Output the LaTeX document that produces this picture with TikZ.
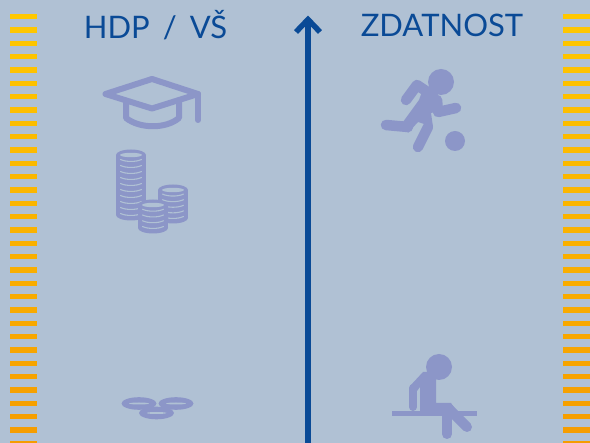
\documentclass[tikz,border=0pt]{standalone}
\usepackage{fontspec}
\setmainfont{Lato}
\definecolor{bgc}{HTML}{B0C1D4}
\definecolor{iconc}{HTML}{8C96C8}
\definecolor{bluec}{HTML}{0A4A96}
\definecolor{stopa}{HTML}{FFC800}
\definecolor{stopb}{HTML}{F59C00}
\tikzset{
  limb/.style={draw=iconc,line cap=round,line join=round},
  title/.style={text=bluec,inner sep=0pt,anchor=base},
}
\newcommand{\coinstack}[4]{% cx, top y, bottom y, count
  \pgfmathsetmacro{\stp}{(#3-#2)/#4}
  \fill[iconc] (#1,#2) ellipse[x radius=15,y radius=5.5];
  \fill[iconc] (#1,#3) ellipse[x radius=15,y radius=5.5];
  \fill[iconc] (#1-15,#2) rectangle (#1+15,#3);
  \fill[bgc] (#1,#2) ellipse[x radius=11,y radius=2.2];
  \foreach \k in {1,...,#4}{
    \pgfmathsetmacro{\yk}{#2+\k*\stp-1.5}
    \draw[bgc,line width=1.1pt,line cap=round] (#1-10.5,\yk) .. controls (#1-5,\yk+2.6) and (#1+5,\yk+2.6) .. (#1+10.5,\yk);
  }
}
\begin{document}
\begin{tikzpicture}[x=1pt,y=-1pt]
\fill[bgc] (0,0) rectangle (590,443);
\useasboundingbox (0,0) rectangle (590,443);
% stripes
\foreach \i in {0,...,32}{
  \pgfmathsetmacro{\yy}{16.7+13.33*\i}
  \pgfmathtruncatemacro{\mix}{100-\i*100/32}
  \fill[stopa!\mix!stopb] (10,\yy-2.6) rectangle (37,\yy+2.6);
  \fill[stopa!\mix!stopb] (563,\yy-2.6) rectangle (590,\yy+2.6);
}
% titles
\node[title] (hdp) at (155.5,39) {\fontsize{31}{31}\selectfont HDP\hspace{0.42em}/\hspace{0.42em}VŠ};
\node[title] (zdat) at (442,37) {\fontsize{31}{32}\selectfont ZDATNOST};
% axis
\coordinate (axisbot) at (308,443);
\coordinate (axistop) at (308,20);
\draw[bluec,line width=5.5pt] (axisbot) -- (axistop);
\draw[bluec,line width=5.5pt,line join=miter] (296,32) -- (308,19.5) -- (320,32);
% cap
\draw[limb,line width=6pt,fill=none] (105.5,94) -- (152,79) -- (198,94) -- (152,108.5) -- cycle;
\draw[limb,line width=6pt] (198,94) -- (198,120);
\draw[limb,line width=6pt] (126,102) -- (126,118) .. controls (140,129) and (166,129) .. (179,118) -- (179,101);
% coin stacks
\coinstack{131}{155}{215}{10}
\coinstack{173}{190}{218}{5}
\coinstack{153}{205}{228}{4}
% bottom coins
\foreach \cx/\cy/\w in {139/403.5/10,176/403.5/10,156.5/413/10}{
  \fill[iconc] (\cx,\cy) ellipse[x radius=17.5,y radius=6.3];
  \fill[bgc] (\cx,\cy) ellipse[x radius=\w,y radius=1];
}
% runner
\fill[iconc] (441,82) circle[radius=13];
\fill[iconc] (455,141) circle[radius=10];
\draw[limb,line width=10.5pt] (406,100) -- (417,85) -- (432,95);
\fill[iconc] (424,86) -- (436,90) -- (438,95) -- (442,110) -- (431,113) -- (433,127) -- (418,122) -- (408,133) -- (403,122) -- (419,100) -- cycle;
\draw[limb,line width=10.5pt] (437,100) -- (438,112) -- (456,108);
\draw[limb,line width=10.5pt] (408,127) -- (386,125);
\draw[limb,line width=10.5pt] (428,127) -- (418,147);
% sitter
\fill[iconc] (439,367) circle[radius=13];
\fill[iconc] (392,411) rectangle (477,416);
\fill[iconc] (410,386) -- (423,372) -- (436,372) -- (436,403) -- (451,403) -- (458,413) -- (420,413) -- (420,387) -- (417,391) -- cycle;
\draw[limb,line width=8pt] (413,388) -- (413,407);
\draw[limb,line width=10pt] (447,410) -- (447,434);
\draw[limb,line width=10pt] (449,409) -- (467,427);
\end{tikzpicture}
\end{document}
